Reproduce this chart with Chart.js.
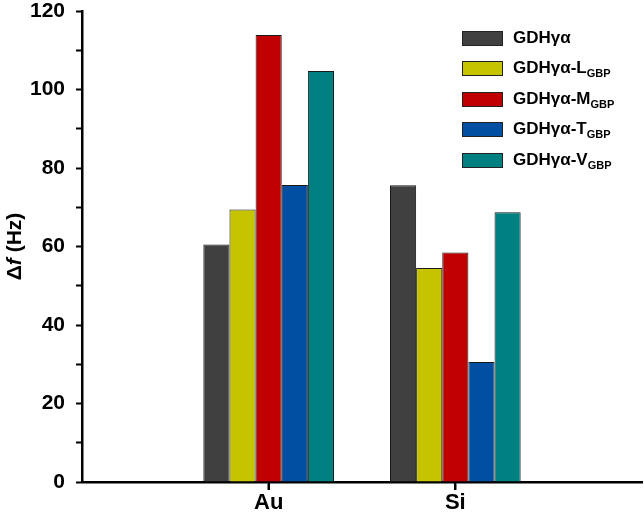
<!DOCTYPE html>
<html>
<head>
<meta charset="utf-8">
<script src="https://cdn.jsdelivr.net/npm/chart.js@4.4.0/dist/chart.umd.min.js"></script>
<style>
  body { margin: 0; background: #fff; }
  #wrap { position: relative; width: 644px; height: 518px; }
  #myChart { display: block; }
  #legend { position: absolute; left: 462px; top: 23px; font-family: "Liberation Sans", Arial, sans-serif; font-weight: bold; font-size: 17px; color: #000; }
  #legend .row { display: flex; align-items: center; height: 30.5px; }
  #legend .box { width: 39px; height: 13px; border: 1px solid #222; margin-right: 10px; }
  #legend sub { font-size: 11px; vertical-align: -4px; }
</style>
</head>
<body>
<div id="wrap">
  <canvas id="myChart" width="644" height="518"></canvas>
  <div id="legend"></div>
</div>
<script>
// categories (empty slots at the ends keep Au / Si at 1/3 and 2/3 of the axis)
const categorias = ['', 'Au', 'Si', '']

const nomes = ['GDHγα', 'GDHγα-L', 'GDHγα-M', 'GDHγα-T', 'GDHγα-V']
const subscritos = ['', 'GBP', 'GBP', 'GBP', 'GBP']
const cores = ['#404040', '#c6c300', '#c00000', '#004fa3', '#008080']

const gdh = [null, 60.5, 75.6, null]
const gdhL = [null, 69.4, 54.5, null]
const gdhM = [null, 113.9, 58.5, null]
const gdhT = [null, 75.7, 30.6, null]
const gdhV = [null, 104.7, 68.7, null]

const valores = [gdh, gdhL, gdhM, gdhT, gdhV]
const fonte = '"Liberation Sans", Arial, sans-serif'

// y axis title: Δf (Hz) with italic f, plus the x tick marks under Au / Si
const extras = {
  id: 'extras',
  afterDraw(chart) {
    const g = chart.ctx
    const area = chart.chartArea
    const escalaX = chart.scales.x

    g.save()
    g.fillStyle = '#000000'
    for (let i = 0; i < categorias.length; i++) {
      if (categorias[i] === '') continue
      const px = Math.round(escalaX.getPixelForValue(i))
      g.fillRect(px - 1, Math.round(area.bottom), 2, 8)
    }
    g.restore()

    const partes = [
      ['Δ', 'bold 21px ' + fonte],
      ['f', 'italic bold 21px ' + fonte],
      [' (Hz)', 'bold 21px ' + fonte]
    ]
    let total = 0
    partes.forEach(p => { g.font = p[1]; total += g.measureText(p[0]).width })
    g.save()
    g.translate(15, (area.top + area.bottom) / 2)
    g.rotate(-Math.PI / 2)
    g.fillStyle = '#000'
    g.textBaseline = 'middle'
    let x = -total / 2
    partes.forEach(p => {
      g.font = p[1]
      g.fillText(p[0], x, 0)
      x += g.measureText(p[0]).width
    })
    g.restore()
  }
}

const ctx = document.getElementById('myChart')

const grafico = new Chart(ctx, {
  type: 'bar',
  data: {
    labels: categorias,
    datasets: nomes.map((n, i) => ({
      label: n + subscritos[i],
      data: valores[i],
      backgroundColor: cores[i],
      borderColor: '#1a1a1a',
      borderWidth: 1,
      borderSkipped: 'bottom',
      categoryPercentage: 0.70,
      barPercentage: 1.0
    }))
  },
  options: {
    responsive: false,
    animation: false,
    layout: { padding: { top: 11, right: 2, left: 0, bottom: 0 } },
    plugins: {
      legend: { display: false },
      tooltip: { enabled: false }
    },
    scales: {
      x: {
        offset: false,
        grid: {
          display: true,
          offset: false,
          drawOnChartArea: false,
          drawTicks: true,
          tickLength: 8,
          tickWidth: 2,
          color: 'rgba(0,0,0,0)',
          tickColor: c => (categorias[c.index] ? '#000' : 'rgba(0,0,0,0)')
        },
        border: { display: true, color: '#000', width: 2.5 },
        ticks: {
          color: '#000',
          padding: 2,
          maxRotation: 0,
          autoSkip: false,
          font: { family: fonte, size: 22, weight: 'bold', lineHeight: 1 }
        },
        afterFit: s => { s.height = 36; s.paddingLeft = 0; s.paddingRight = 0 }
      },
      y: {
        min: 0,
        max: 120,
        grid: {
          display: true,
          drawOnChartArea: false,
          drawTicks: true,
          tickLength: 6,
          tickWidth: 2,
          tickColor: '#000'
        },
        border: { display: true, color: '#000', width: 2.5 },
        ticks: {
          stepSize: 10,
          color: '#000',
          padding: 11,
          callback: v => (v % 20 === 0 ? v : ''),
          font: { family: fonte, size: 21, weight: 'bold', lineHeight: 1 }
        },
        afterFit: s => { s.width = 82; s.paddingTop = 0; s.paddingBottom = 0 }
      }
    }
  },
  plugins: [extras]
})

// HTML legend so the GBP subscripts stay real text
const legenda = document.getElementById('legend')
nomes.forEach((n, i) => {
  const linha = document.createElement('div')
  linha.className = 'row'
  linha.innerHTML = '<span class="box" style="background:' + cores[i] + '"></span>' +
    '<span>' + n + (subscritos[i] ? '<sub>' + subscritos[i] + '</sub>' : '') + '</span>'
  legenda.appendChild(linha)
})
</script>
</body>
</html>
